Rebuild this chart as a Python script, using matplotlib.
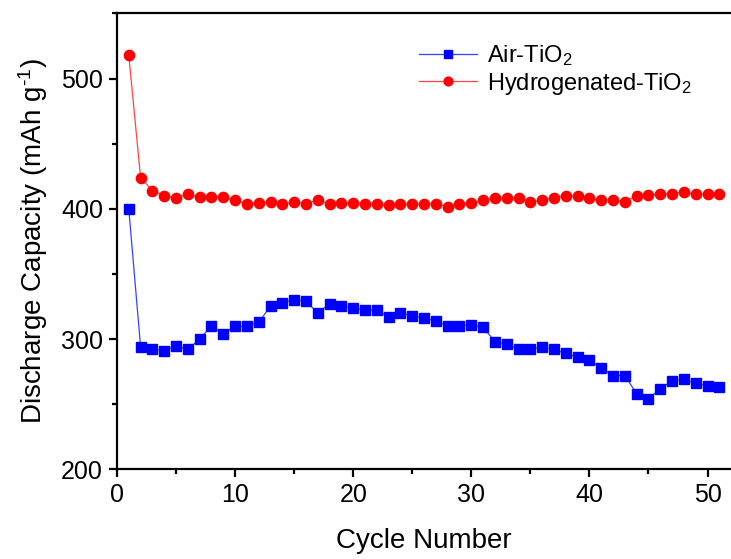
import matplotlib
matplotlib.use("Agg")
import matplotlib.pyplot as plt
from matplotlib.ticker import MultipleLocator

plt.rcParams['font.family'] = ['Liberation Sans', 'DejaVu Sans']
plt.rcParams['mathtext.fontset'] = 'custom'
plt.rcParams['mathtext.rm'] = 'Liberation Sans'
plt.rcParams['mathtext.it'] = 'Liberation Sans'
plt.rcParams['mathtext.default'] = 'regular'

cycles = list(range(1, 52))
air_tio2 = [400, 294, 292, 291, 295, 292, 300, 310, 304, 310,
            310, 313, 325, 328, 330, 329, 320, 327, 325, 324,
            322, 322, 317, 320, 318, 316, 314, 310, 310, 311,
            309, 298, 296, 292, 292, 294, 292, 289, 286, 284,
            278, 272, 272, 258, 254, 262, 268, 269, 266, 264, 263]
hyd_tio2 = [518, 424, 414, 410, 408.5, 411, 409, 409, 409, 406.5,
            404, 404.5, 405, 404, 405, 404, 406.5, 404, 404.5, 404.5,
            404, 403.5, 403, 403.5, 403.5, 403.5, 404, 401.5, 403.5, 404.5,
            406.5, 408, 408, 408, 405.5, 406.5, 408.5, 410, 410, 408,
            406.5, 407, 405.5, 410, 410.5, 411.5, 411.5, 413, 411, 411.5, 411.5]
labels = ['Air-TiO$_2$', 'Hydrogenated-TiO$_2$']

fig = plt.figure(figsize=(7.31, 5.59), dpi=100)
ax = fig.add_axes([0.160, 0.1605, 0.8386, 0.8155])

l1, = ax.plot(cycles, air_tio2, color='#3344ff', lw=0.9, marker='s', ms=6.6,
              mfc='#0000ff', mec='#0000ff', label=labels[0])
l2, = ax.plot(cycles, hyd_tio2, color='#ff4444', lw=0.9, marker='o', ms=7.4,
              mfc='#ff0000', mec='#ff0000', label=labels[1])

ax.set_xlim(0, 51.9)
ax.set_ylim(200, 550)
ax.xaxis.set_major_locator(MultipleLocator(10))
ax.xaxis.set_minor_locator(MultipleLocator(5))
ax.yaxis.set_major_locator(MultipleLocator(100))
ax.yaxis.set_minor_locator(MultipleLocator(50))
ax.tick_params(which='both', direction='out', width=1.6, top=False, right=False,
               labelsize=18)
ax.tick_params(which='major', length=6, pad=4)
ax.tick_params(which='minor', length=3.5)
for s in ['left', 'bottom', 'top']:
    ax.spines[s].set_linewidth(1.6)
ax.spines['right'].set_visible(False)

ax.set_xlabel('Cycle Number', fontsize=20, labelpad=15)
ax.set_ylabel('Discharge Capacity (mAh g$^{\\text{-}1}$)', fontsize=20, labelpad=8)

leg = ax.legend(handles=[l1, l2], loc='center left',
                bbox_to_anchor=(419 / 731, 1 - 69.8 / 559),
                bbox_transform=fig.transFigure, frameon=False, fontsize=17,
                handlelength=2.45, handletextpad=0.42, borderpad=0,
                borderaxespad=0, labelspacing=0.12, markerscale=0.85)

fig.savefig('out.png', dpi=100)
